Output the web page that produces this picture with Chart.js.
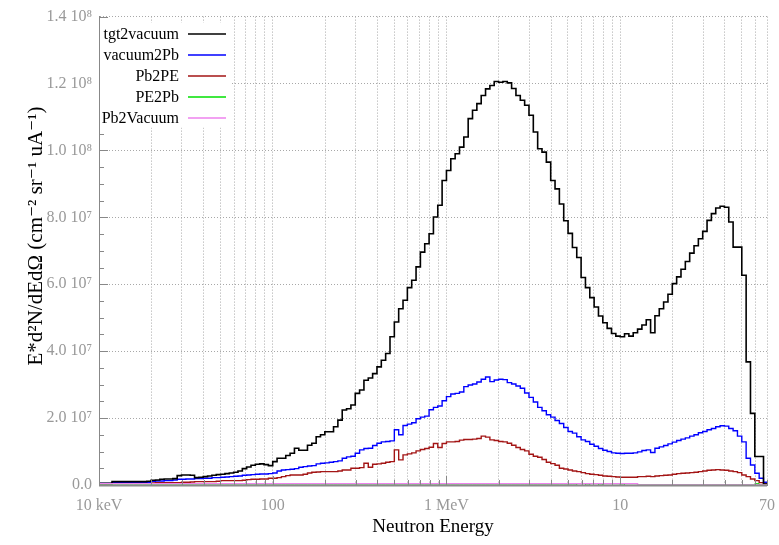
<!DOCTYPE html>
<html>
<head>
<meta charset="utf-8">
<script src="https://cdn.jsdelivr.net/npm/chart.js@4.4.1/dist/chart.umd.min.js"></script>
<style>
  html, body { margin: 0; padding: 0; background: #fff; }
</style>
</head>
<body>
<canvas id="myChart" width="779" height="545"></canvas>
<script>
// histogram binning: 40 log bins per decade starting at 10 keV (energies in MeV)
const E_MIN = 0.01;
const BINS_PER_DECADE = 40;
const UNIT = 1e6; // values below are in units of 10^6

const tgt2vacuum = [
  0.5, 0.5, 0.5, 1.0, 1.0, 1.0, 1.0, 1.0, 1.0, 1.0,
  1.0, 1.1, 1.4, 1.5, 1.7, 1.8, 1.8, 1.9, 2.8, 3.0,
  3.0, 2.9, 2.2, 2.3, 2.5, 2.7, 2.9, 3.1, 3.2, 3.4,
  3.6, 3.8, 4.2, 4.9, 5.4, 5.9, 6.2, 6.3, 6.1, 5.8,
  7.0, 8.0, 8.0, 8.8, 9.5, 11.0, 10.4, 10.4, 11.9, 12.5,
  14.4, 15.0, 15.9, 15.9, 17.4, 19.4, 22.4, 22.8, 23.9, 27.4,
  28.4, 31.3, 32.0, 33.3, 35.3, 37.3, 39.3, 44.3, 48.7, 52.7,
  55.2, 59.0, 61.2, 65.2, 69.6, 72.1, 75.1, 80.1, 83.6, 91.0,
  94.0, 97.5, 99.0, 101.0, 104.0, 109.5, 112.0, 114.0, 116.4, 118.4,
  119.4, 120.6, 120.4, 120.6, 120.2, 118.5, 116.4, 115.0, 113.5, 110.5,
  105.5, 100.5, 99.5, 96.5, 91.0, 88.5, 84.0, 79.0, 75.2, 71.0,
  68.0, 62.0, 59.0, 56.0, 53.2, 50.5, 48.5, 46.8, 45.3, 44.5,
  44.3, 45.2, 44.5, 45.5, 46.6, 47.8, 49.4, 45.5, 50.6, 52.7,
  54.7, 57.0, 60.2, 62.2, 64.5, 66.8, 69.3, 71.5, 73.6, 75.8,
  79.1, 81.1, 82.8, 83.3, 83.0, 78.6, 71.1, 71.1, 62.7, 36.8,
  21.4, 8.5, 8.5, 0.3
];

const vacuum2Pb = [
  0.5, 0.5, 0.5, 0.7, 0.7, 0.7, 0.7, 0.7, 0.7, 0.7,
  0.7, 0.8, 1.1, 1.2, 1.2, 1.3, 1.3, 1.5, 1.7, 1.7,
  1.8, 1.8, 1.9, 1.9, 2.0, 2.0, 2.2, 2.2, 2.3, 2.4,
  2.5, 2.6, 2.7, 2.9, 3.0, 3.1, 3.2, 3.3, 3.3, 3.4,
  3.6, 4.2, 4.5, 4.6, 4.7, 4.9, 5.3, 5.5, 5.7, 5.8,
  6.3, 6.5, 6.6, 6.8, 7.0, 7.2, 8.0, 8.4, 8.6, 9.5,
  10.5, 10.9, 11.0, 11.8, 12.5, 12.9, 13.0, 13.2, 16.5, 15.0,
  17.8, 18.2, 18.6, 19.8, 20.3, 20.6, 22.5, 23.2, 23.6, 25.2,
  26.4, 27.2, 27.4, 27.8, 29.4, 29.9, 30.2, 30.8, 31.6, 32.3,
  30.9, 31.4, 31.6, 31.5, 30.6, 30.2, 29.6, 28.9, 27.5, 26.2,
  24.8, 23.2, 22.2, 21.0, 20.3, 19.3, 18.4, 17.2, 16.0, 15.5,
  14.4, 13.5, 13.0, 12.2, 11.6, 10.9, 10.4, 10.0, 9.6, 9.5,
  9.4, 9.5, 9.5, 9.6, 9.9, 10.3, 10.5, 9.7, 11.0, 11.4,
  11.8, 12.3, 12.8, 13.3, 13.7, 14.1, 14.6, 15.0, 15.6, 16.0,
  16.5, 16.9, 17.4, 17.7, 17.6, 16.9, 16.2, 14.6, 12.9, 8.0,
  6.0, 3.5, 2.0, 0.8
];

const Pb2PE = [
  0.4, 0.4, 0.4, 0.5, 0.5, 0.5, 0.5, 0.5, 0.5, 0.5,
  0.5, 0.5, 0.6, 0.7, 0.7, 0.7, 0.7, 0.7, 0.7, 0.8,
  0.8, 0.9, 1.0, 1.0, 1.0, 1.0, 1.0, 1.1, 1.3, 1.3,
  1.3, 1.3, 1.3, 1.4, 1.6, 1.7, 1.7, 1.8, 1.8, 2.0,
  2.0, 2.2, 2.5, 2.8, 3.0, 3.0, 3.0, 3.2, 3.6, 3.8,
  3.9, 4.0, 4.0, 4.0, 4.0, 4.2, 4.5, 4.5, 5.0, 5.0,
  5.2, 6.5, 5.3, 6.2, 6.3, 6.5, 6.8, 7.0, 10.5, 7.5,
  9.0, 9.3, 9.6, 10.2, 10.6, 10.9, 11.3, 12.4, 11.2, 12.4,
  12.9, 12.9, 13.0, 13.4, 13.6, 13.6, 13.7, 13.9, 14.6, 14.3,
  13.5, 13.3, 13.0, 12.9, 12.5, 11.9, 11.2, 10.6, 10.2, 9.2,
  8.6, 8.3, 7.6, 6.8, 6.4, 5.9, 5.0, 4.8, 4.5, 4.2,
  4.0, 3.7, 3.4, 3.2, 3.1, 2.9, 2.7, 2.6, 2.5, 2.4,
  2.3, 2.3, 2.3, 2.3, 2.5, 2.5, 2.6, 2.5, 2.7, 2.8,
  2.9, 3.0, 3.2, 3.4, 3.5, 3.6, 3.7, 3.8, 4.0, 4.2,
  4.4, 4.5, 4.6, 4.5, 4.4, 4.2, 4.0, 3.7, 3.0, 2.5,
  1.8, 1.3, 0.7, 0.3
];

const PE2Pb = [
  0, 0, 0, 0, 0, 0, 0, 0, 0, 0,
  0, 0, 0, 0, 0, 0, 0, 0, 0, 0,
  0, 0, 0, 0, 0, 0, 0, 0, 0, 0,
  0, 0, 0, 0, 0, 0, 0, 0, 0, 0,
  0, 0, 0, 0, 0, 0, 0, 0, 0, 0,
  0, 0, 0, 0, 0, 0, 0, 0, 0, 0,
  0, 0, 0, 0, 0, 0, 0, 0, 0, 0,
  0, 0, 0, 0, 0, 0, 0, 0, 0, 0,
  0, 0, 0, 0, 0, 0, 0, 0, 0, 0,
  0, 0, 0, 0, 0, 0, 0, 0, 0, 0,
  0, 0, 0, 0, 0, 0, 0, 0, 0, 0,
  0.4, 0.4, 0, 0.4, 0.4, 0, 0.4, 0.4, 0.4, 0.4,
  0, 0.4, 0.4, 0.4, 0, 0, 0, 0, 0, 0,
  0, 0, 0, 0, 0, 0, 0, 0, 0, 0,
  0, 0, 0, 0, 0, 0, 0, 0, 0, 0,
  0, 0.4, 0, 0
];

const Pb2Vacuum = [
  0.4, 0.4, 0.4, 0.4, 0.4, 0.4, 0.4, 0.4, 0.4, 0.4,
  0.4, 0.4, 0.4, 0.4, 0.4, 0.4, 0.4, 0.4, 0.4, 0.4,
  0.4, 0.4, 0.4, 0.4, 0.4, 0.4, 0.4, 0.4, 0.4, 0.4,
  0.4, 0.4, 0.4, 0.4, 0.4, 0.4, 0.4, 0.4, 0.4, 0.4,
  0.4, 0.4, 0.4, 0.4, 0.4, 0.4, 0.4, 0.4, 0.4, 0.4,
  0.4, 0.4, 0.4, 0.4, 0.4, 0.4, 0.4, 0.4, 0.4, 0.4,
  0.4, 0.4, 0.4, 0.4, 0.4, 0.4, 0.4, 0.4, 0.4, 0.4,
  0.4, 0.4, 0.4, 0.4, 0.4, 0.4, 0.4, 0.4, 0.4, 0.4,
  0.4, 0.4, 0.4, 0.4, 0.4, 0.4, 0.4, 0.4, 0.4, 0.4,
  0.4, 0.4, 0.4, 0.4, 0.4, 0.4, 0.4, 0.4, 0.4, 0.4,
  0.4, 0.4, 0.4, 0.4, 0.4, 0.4, 0.4, 0.4, 0.4, 0.4,
  0.4, 0.4, 0.4, 0.4, 0.4, 0.4, 0.4, 0.4, 0.4, 0.4,
  0.4, 0.4, 0.4, 0.4, 0, 0, 0, 0, 0, 0,
  0, 0, 0, 0, 0, 0, 0, 0, 0, 0,
  0, 0, 0, 0, 0, 0, 0, 0, 0, 0,
  0, 0, 0, 0
];

const seriesNames = ["tgt2vacuum", "vacuum2Pb", "Pb2PE", "PE2Pb", "Pb2Vacuum"];
const seriesValues = [tgt2vacuum, vacuum2Pb, Pb2PE, PE2Pb, Pb2Vacuum];
const seriesColors = ["#000000", "#0000ff", "#a31515", "#00e000", "#ee82ee"];
const drawOrder = [2, 3, 4, 1, 0];

// x axis ticks (MeV)
const xLabelValues = [0.01, 0.1, 1, 10, 70];
const xLabelTexts = ["10 keV", "100", "1 MeV", "10", "70"];
const xGridValues = [
  0.01, 0.02, 0.03, 0.04, 0.05, 0.06, 0.07, 0.08, 0.09,
  0.1, 0.2, 0.3, 0.4, 0.5, 0.6, 0.7, 0.8, 0.9,
  1, 2, 3, 4, 5, 6, 7, 8, 9,
  10, 20, 30, 40, 50, 60, 70
];
const Y_MAX = 1.4e8;
const Y_STEP = 2e7;
const Y_MINOR = 5e6;

const SERIF = '"Liberation Serif", "DejaVu Serif", serif';

// Helper functions

/**
 * Turn a list of bin contents into stepped points (lower edges + closing edge)
 * @param {array} values bin contents in UNIT
 * @returns array of {x, y}
 */
const histPoints = (values) => {
  const edge = (i) => E_MIN * Math.pow(10, i / BINS_PER_DECADE);
  const pts = values.map((v, i) => ({ x: edge(i), y: v * UNIT }));
  pts.push({ x: edge(values.length), y: values[values.length - 1] * UNIT });
  return pts;
};

const formatY = (value) => {
  const v = Math.round(value / 1e6) * 1e6;
  if (v === 0) return "0.0";
  if (v >= 1e8) return (v / 1e8).toFixed(1) + " 10\u2078";
  return (v / 1e7).toFixed(1) + " 10\u2077";
};

// inner tick marks on both axes, and the bottom axis line drawn over the histograms
const tickMarks = {
  id: "tickMarks",
  afterDatasetsDraw(chart) {
    const { ctx, chartArea: a, scales: { x, y } } = chart;
    ctx.save();
    ctx.strokeStyle = "#8a8a8a";
    ctx.lineWidth = 2;
    ctx.beginPath();
    ctx.moveTo(a.left, a.bottom + 0.5);
    ctx.lineTo(a.right, a.bottom + 0.5);
    ctx.stroke();

    ctx.strokeStyle = "#888";
    ctx.lineWidth = 1;
    ctx.beginPath();
    for (let v = 0; v <= Y_MAX; v += Y_MINOR) {
      const py = Math.round(y.getPixelForValue(v)) + 0.5;
      const len = v % Y_STEP === 0 ? 9 : 5;
      ctx.moveTo(a.left, py);
      ctx.lineTo(a.left + len, py);
    }
    xGridValues.forEach((v) => {
      const px = Math.round(x.getPixelForValue(v)) + 0.5;
      const len = [0.01, 0.1, 1, 10].includes(v) ? 9 : 5;
      ctx.moveTo(px, a.bottom);
      ctx.lineTo(px, a.bottom - len);
    });
    ctx.stroke();
    ctx.restore();
  },
};

// legend box in the top-left corner, text right-aligned before the line sample
const histLegend = {
  id: "histLegend",
  afterDatasetsDraw(chart) {
    const { ctx, chartArea: a } = chart;
    ctx.save();
    ctx.fillStyle = "#fff";
    ctx.fillRect(a.left + 1, a.top + 6, 132, 105);
    ctx.font = "16px " + SERIF;
    ctx.textAlign = "right";
    ctx.textBaseline = "middle";
    chart.data.datasets.forEach((ds, k) => {
      const yy = a.top + 17 + k * 21;
      ctx.fillStyle = "#000";
      ctx.fillText(ds.label, a.left + 80, yy + 1);
      ctx.strokeStyle = ds.borderColor;
      ctx.lineWidth = 1.5;
      ctx.beginPath();
      ctx.moveTo(a.left + 89, yy + 0.5);
      ctx.lineTo(a.left + 127, yy + 0.5);
      ctx.stroke();
    });
    ctx.restore();
  },
};

// axis titles
const axisTitles = {
  id: "axisTitles",
  afterDraw(chart) {
    const { ctx, chartArea: a } = chart;
    ctx.save();
    ctx.fillStyle = "#000";
    ctx.textAlign = "center";
    ctx.textBaseline = "middle";
    ctx.font = "19px " + SERIF;
    ctx.fillText("Neutron Energy", (a.left + a.right) / 2, 527);
    ctx.translate(36, 236);
    ctx.rotate(-Math.PI / 2);
    ctx.font = "21px " + SERIF;
    ctx.fillText("E*d\u00b2N/dEd\u03a9 (cm\u207b\u00b2 sr\u207b\u00b9 uA\u207b\u00b9)", 0, 0);
    ctx.restore();
  },
};

const datasets = seriesNames.map((name, k) => ({
  label: name,
  data: histPoints(seriesValues[k]),
  borderColor: seriesColors[k],
  borderWidth: k === 0 ? 1.6 : k === 3 ? 1 : 1.4,
  stepped: "before",
  pointRadius: 0,
  fill: false,
  order: drawOrder[k],
}));

const ctx = document.getElementById("myChart").getContext("2d");
new Chart(ctx, {
  type: "line",
  data: { datasets },
  plugins: [tickMarks, histLegend, axisTitles],
  options: {
    responsive: false,
    animation: false,
    layout: { padding: { top: 16, right: 12, left: 0, bottom: 0 } },
    plugins: { legend: { display: false }, tooltip: { enabled: false } },
    scales: {
      x: {
        type: "logarithmic",
        min: 0.01,
        max: 70,
        afterBuildTicks: (scale) => {
          scale.ticks = xGridValues.map((v) => ({ value: v }));
        },
        afterFit: (scale) => {
          scale.height = 60;
          scale.paddingLeft = 0;
          scale.paddingRight = 0;
        },
        ticks: {
          autoSkip: false,
          maxRotation: 0,
          minRotation: 0,
          padding: 11,
          color: "#999",
          font: { family: SERIF, size: 16 },
          callback: (value) => {
            const idx = xLabelValues.indexOf(value);
            return idx >= 0 ? xLabelTexts[idx] : "";
          },
        },
        grid: { color: "#a8a8a8", lineWidth: 1, drawTicks: false },
        border: { display: true, color: "#888", width: 1, dash: [1, 2] },
      },
      y: {
        type: "linear",
        min: 0,
        max: Y_MAX,
        afterFit: (scale) => { scale.width = 99; },
        ticks: {
          stepSize: Y_STEP,
          padding: 7,
          color: "#999",
          font: { family: SERIF, size: 16 },
          callback: (value) => formatY(value),
        },
        grid: { color: "#a8a8a8", lineWidth: 1, drawTicks: false },
        border: { display: true, color: "#888", width: 1, dash: [1, 2] },
      },
    },
  },
});
</script>
</body>
</html>
